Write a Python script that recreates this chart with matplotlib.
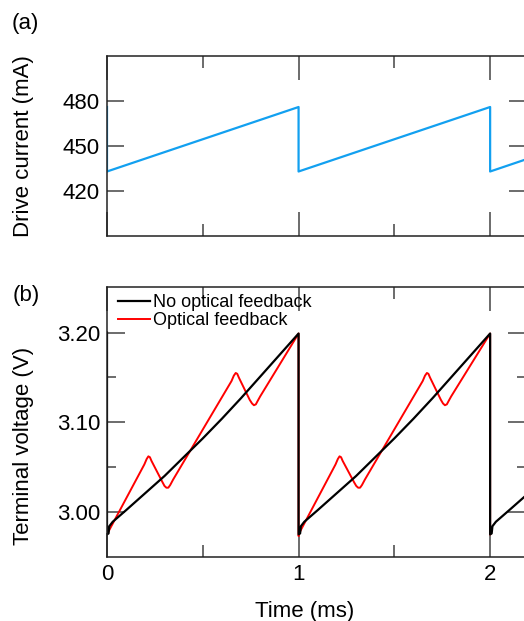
import matplotlib
matplotlib.use("Agg")
import matplotlib.pyplot as plt
from matplotlib.ticker import FormatStrFormatter

plt.rcParams['font.family'] = ['Liberation Sans', 'DejaVu Sans']

# --- data ---
# (a) drive current, sawtooth vertices
t_current = [0.0, 0.0, 1.0, 1.0, 2.0, 2.0, 2.185]
drive_current = [476, 433, 476, 433, 476, 433, 441]

# (b) terminal voltage, no optical feedback (black)
t_nofb = [0.000, 0.000, 0.008, 0.012, 0.030, 0.100, 0.200, 0.300, 0.400, 0.500,
          0.600, 0.700, 0.800, 0.900, 1.000,
          1.000, 1.008, 1.012, 1.030, 1.100, 1.200, 1.300, 1.400, 1.500,
          1.600, 1.700, 1.800, 1.900, 2.000,
          2.000, 2.008, 2.012, 2.030, 2.100, 2.185]
v_nofb = [3.200, 2.975, 2.976, 2.984, 2.989, 3.002, 3.021, 3.040, 3.061, 3.082,
          3.104, 3.127, 3.151, 3.175, 3.199,
          2.975, 2.976, 2.984, 2.989, 3.002, 3.021, 3.040, 3.061, 3.082,
          3.104, 3.127, 3.151, 3.175, 3.199,
          2.975, 2.976, 2.984, 2.989, 3.002, 3.018]

# (b) terminal voltage, optical feedback (red)
t_fb = [0.000, 0.000, 0.005, 0.195, 0.207, 0.216, 0.224, 0.232, 0.290, 0.300,
        0.310, 0.320, 0.330, 0.345, 0.650, 0.662, 0.672, 0.680, 0.688, 0.745,
        0.757, 0.767, 0.777, 0.787, 0.800, 1.000,
        1.000, 1.005, 1.193, 1.205, 1.214, 1.222, 1.230, 1.290, 1.301,
        1.311, 1.321, 1.331, 1.346, 1.648, 1.660, 1.670, 1.678, 1.686, 1.743,
        1.754, 1.764, 1.774, 1.784, 1.797, 2.000, 2.000]
v_fb = [3.200, 2.975, 2.977, 3.053, 3.059, 3.062, 3.061, 3.057, 3.033, 3.029,
        3.027, 3.027, 3.030, 3.036, 3.146, 3.152, 3.155, 3.154, 3.150, 3.125,
        3.121, 3.119, 3.120, 3.124, 3.129, 3.199,
        2.973, 2.977, 3.053, 3.059, 3.062, 3.061, 3.057, 3.033, 3.029,
        3.027, 3.027, 3.030, 3.036, 3.146, 3.152, 3.155, 3.154, 3.150, 3.125,
        3.121, 3.119, 3.120, 3.124, 3.129, 3.199, 2.975]

fig = plt.figure(figsize=(5.24, 6.21), dpi=100)
ax1 = fig.add_axes([0.2042, 0.6200, 0.7988, 0.2898])
ax2 = fig.add_axes([0.2042, 0.1035, 0.7988, 0.4339])

tick_col = '#444444'
for ax in (ax1, ax2):
    for s in ax.spines.values():
        s.set_linewidth(1.1)
        s.set_color('#222222')
    ax.set_xlim(0, 2.185)
    ax.set_xticks([0, 1, 2])
    ax.set_xticks([0.5, 1.5], minor=True)
    ax.tick_params(axis='x', which='major', direction='in', top=True, bottom=True,
                   length=17, width=1.1, color=tick_col, labelsize=16, pad=5)
    ax.tick_params(axis='x', which='minor', direction='in', top=True, bottom=True,
                   length=8.6, width=1.1, color=tick_col)

# --- (a) ---
ax1.plot(t_current, drive_current, color='#12a0f0', lw=1.6)
ax1.set_ylim(390, 510)
ax1.set_yticks([420, 450, 480])
ax1.tick_params(axis='y', which='major', direction='in', left=True, right=True,
                length=12.5, width=1.1, color=tick_col, labelsize=16, pad=5)
ax1.tick_params(axis='x', labelbottom=False)
ax1.set_ylabel('Drive current (mA)', fontsize=16)
ax1.yaxis.set_label_coords(-0.174, 0.5)

# --- (b) ---
ax2.plot(t_fb, v_fb, color='#ff0000', lw=1.4, label='Optical feedback')
ax2.plot(t_nofb, v_nofb, color='black', lw=1.6, label='No optical feedback')
ax2.set_ylim(2.95, 3.2506)
ax2.set_yticks([3.00, 3.10, 3.20])
ax2.set_yticks([3.05, 3.15], minor=True)
ax2.yaxis.set_major_formatter(FormatStrFormatter('%.2f'))
ax2.tick_params(axis='y', which='major', direction='in', left=True, right=True,
                length=13, width=1.1, color=tick_col, labelsize=16, pad=5)
ax2.tick_params(axis='y', which='minor', direction='in', left=True, right=True,
                length=6.5, width=1.1, color=tick_col)
ax2.set_xticklabels(['0', '1', '2'])
ax2.set_ylabel('Terminal voltage (V)', fontsize=16)
ax2.yaxis.set_label_coords(-0.174, 0.41)
ax2.set_xlabel('Time (ms)', fontsize=16)
ax2.xaxis.set_label_coords(0.473, -0.165)

h, l = ax2.get_legend_handles_labels()
ax2.legend(h[::-1], l[::-1], loc='upper left', bbox_to_anchor=(0.026, 0.974),
           frameon=False, fontsize=13, handlelength=1.78, handletextpad=0.17,
           labelspacing=0.05, borderpad=0, borderaxespad=0)

fig.text(12 / 524, 1 - 24 / 621, '(a)', fontsize=16, ha='left', va='center')
fig.text(13 / 524, 1 - 295 / 621, '(b)', fontsize=16, ha='left', va='center')

fig.savefig('out.png', dpi=100)
